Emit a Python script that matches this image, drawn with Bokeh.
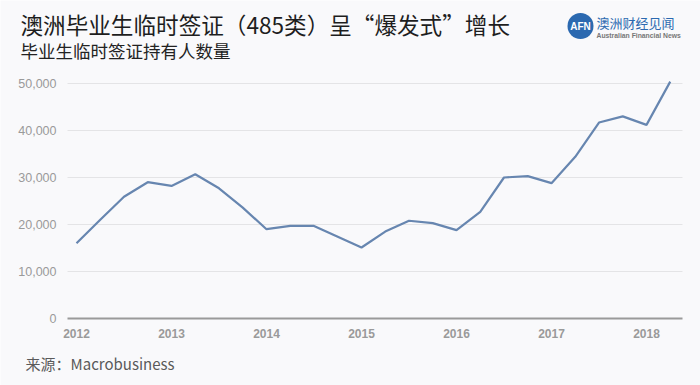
from bokeh.plotting import figure
from bokeh.models import FixedTicker, NumeralTickFormatter, Range1d, LinearAxis
from bokeh.core.properties import value
from bokeh.embed import file_html
from bokeh.resources import INLINE

# ---- data ----
quarters = [2012.0, 2012.25, 2012.5, 2012.75,
            2013.0, 2013.25, 2013.5, 2013.75,
            2014.0, 2014.25, 2014.5, 2014.75,
            2015.0, 2015.25, 2015.5, 2015.75,
            2016.0, 2016.25, 2016.5, 2016.75,
            2017.0, 2017.25, 2017.5, 2017.75,
            2018.0, 2018.25]
holders = [16000, 21000, 25900, 29000,
           28200, 30700, 27700, 23600,
           19000, 19700, 19700, 17400,
           15100, 18500, 20800, 20300,
           18800, 22700, 30000, 30300,
           28800, 34400, 41700, 43000,
           41200, 50400]
year_ticks = [2012, 2013, 2014, 2015, 2016, 2017, 2018]
value_ticks = [0, 10000, 20000, 30000, 40000, 50000]

title_text = "澳洲毕业生临时签证（485类）呈“爆发式”增长"
subtitle_text = "毕业生临时签证持有人数量"
source_text = "来源：Macrobusiness"
logo_cn = "澳洲财经见闻"
logo_en = "Australian Financial News"
logo_mark = "AFN"

# ---- layout (pixels of the 700x385 canvas) ----
W, H = 700, 385
PLOT_L, PLOT_R = 67, 682      # extent of grid / axis line
ZERO_Y = 318                  # pixel row of value 0
X0_PX = 76.0                  # pixel column of 2012
PX_PER_YEAR = 95.0
PX_PER_10K = 47.0


def dx(px):
    return 2012 + (px - X0_PX) / PX_PER_YEAR


def dy(py):
    return (ZERO_Y - py) / PX_PER_10K * 10000


BG = "#f9f9fb"
CJK = "Noto Sans CJK SC"

p = figure(width=W, height=H, output_backend="svg", toolbar_location=None,
           x_range=Range1d(dx(0), dx(W)), y_range=Range1d(dy(H), dy(0)),
           x_axis_location=None, y_axis_location=None,
           min_border=0, background_fill_color=BG, border_fill_color=BG)
p.outline_line_color = None
p.xgrid.visible = False
p.ygrid.visible = False

# horizontal grid lines at the value ticks
grid_vals = value_ticks[1:]
p.segment(x0=[dx(PLOT_L)] * len(grid_vals), x1=[dx(PLOT_R)] * len(grid_vals),
          y0=grid_vals, y1=grid_vals, line_color="#e4e4e6", line_width=1)

# axes placed at fixed data locations
xaxis = LinearAxis(fixed_location=0, bounds=(dx(PLOT_L), dx(PLOT_R)),
                   ticker=FixedTicker(ticks=year_ticks))
xaxis.axis_line_color = "#9a9a9a"
xaxis.axis_line_width = 2
xaxis.major_tick_line_color = None
xaxis.minor_tick_line_color = None
xaxis.major_label_standoff = 4
xaxis.major_label_text_font = "Liberation Sans"
xaxis.major_label_text_font_size = "12px"
xaxis.major_label_text_font_style = "bold"
xaxis.major_label_text_color = "#9a9a9a"
p.add_layout(xaxis, "below")

yaxis = LinearAxis(fixed_location=dx(PLOT_L), ticker=FixedTicker(ticks=value_ticks),
                   formatter=NumeralTickFormatter(format="0,0"))
yaxis.axis_line_color = None
yaxis.major_tick_line_color = None
yaxis.minor_tick_line_color = None
yaxis.major_label_standoff = 5
yaxis.major_label_text_font = "Liberation Sans"
yaxis.major_label_text_font_size = "12.5px"
yaxis.major_label_text_color = "#9a9a9a"
p.add_layout(yaxis, "left")

# data line
p.line(quarters, holders, line_color="#6786b0", line_width=2.2)


def txt(text, px, py, size, color, font=CJK, style="normal", align="left"):
    p.text(x=[dx(px)], y=[dy(py)], text=[text], text_font=value(font),
           text_font_size=f"{size}px", text_color=color, text_font_style=style,
           text_align=align, text_baseline="middle")


txt(title_text, 20, 24, 22.6, "#1e1e1e")
txt(subtitle_text, 20, 50, 17.5, "#222222")
txt(source_text, 25, 362.5, 15, "#5a5a5a")

# logo
p.scatter(x=[dx(580)], y=[dy(25.5)], size=26, marker="circle",
          fill_color="#2b69b0", line_color=None)
txt(logo_mark, 580, 26, 10, "#ffffff", font="Liberation Sans", style="bold",
    align="center")
txt(logo_cn, 596, 22, 13, "#2b69b0")
txt(logo_en, 596, 34.5, 6.8, "#777777", font="Liberation Sans", style="bold")

open("out.html", "w").write(file_html(p, INLINE))
